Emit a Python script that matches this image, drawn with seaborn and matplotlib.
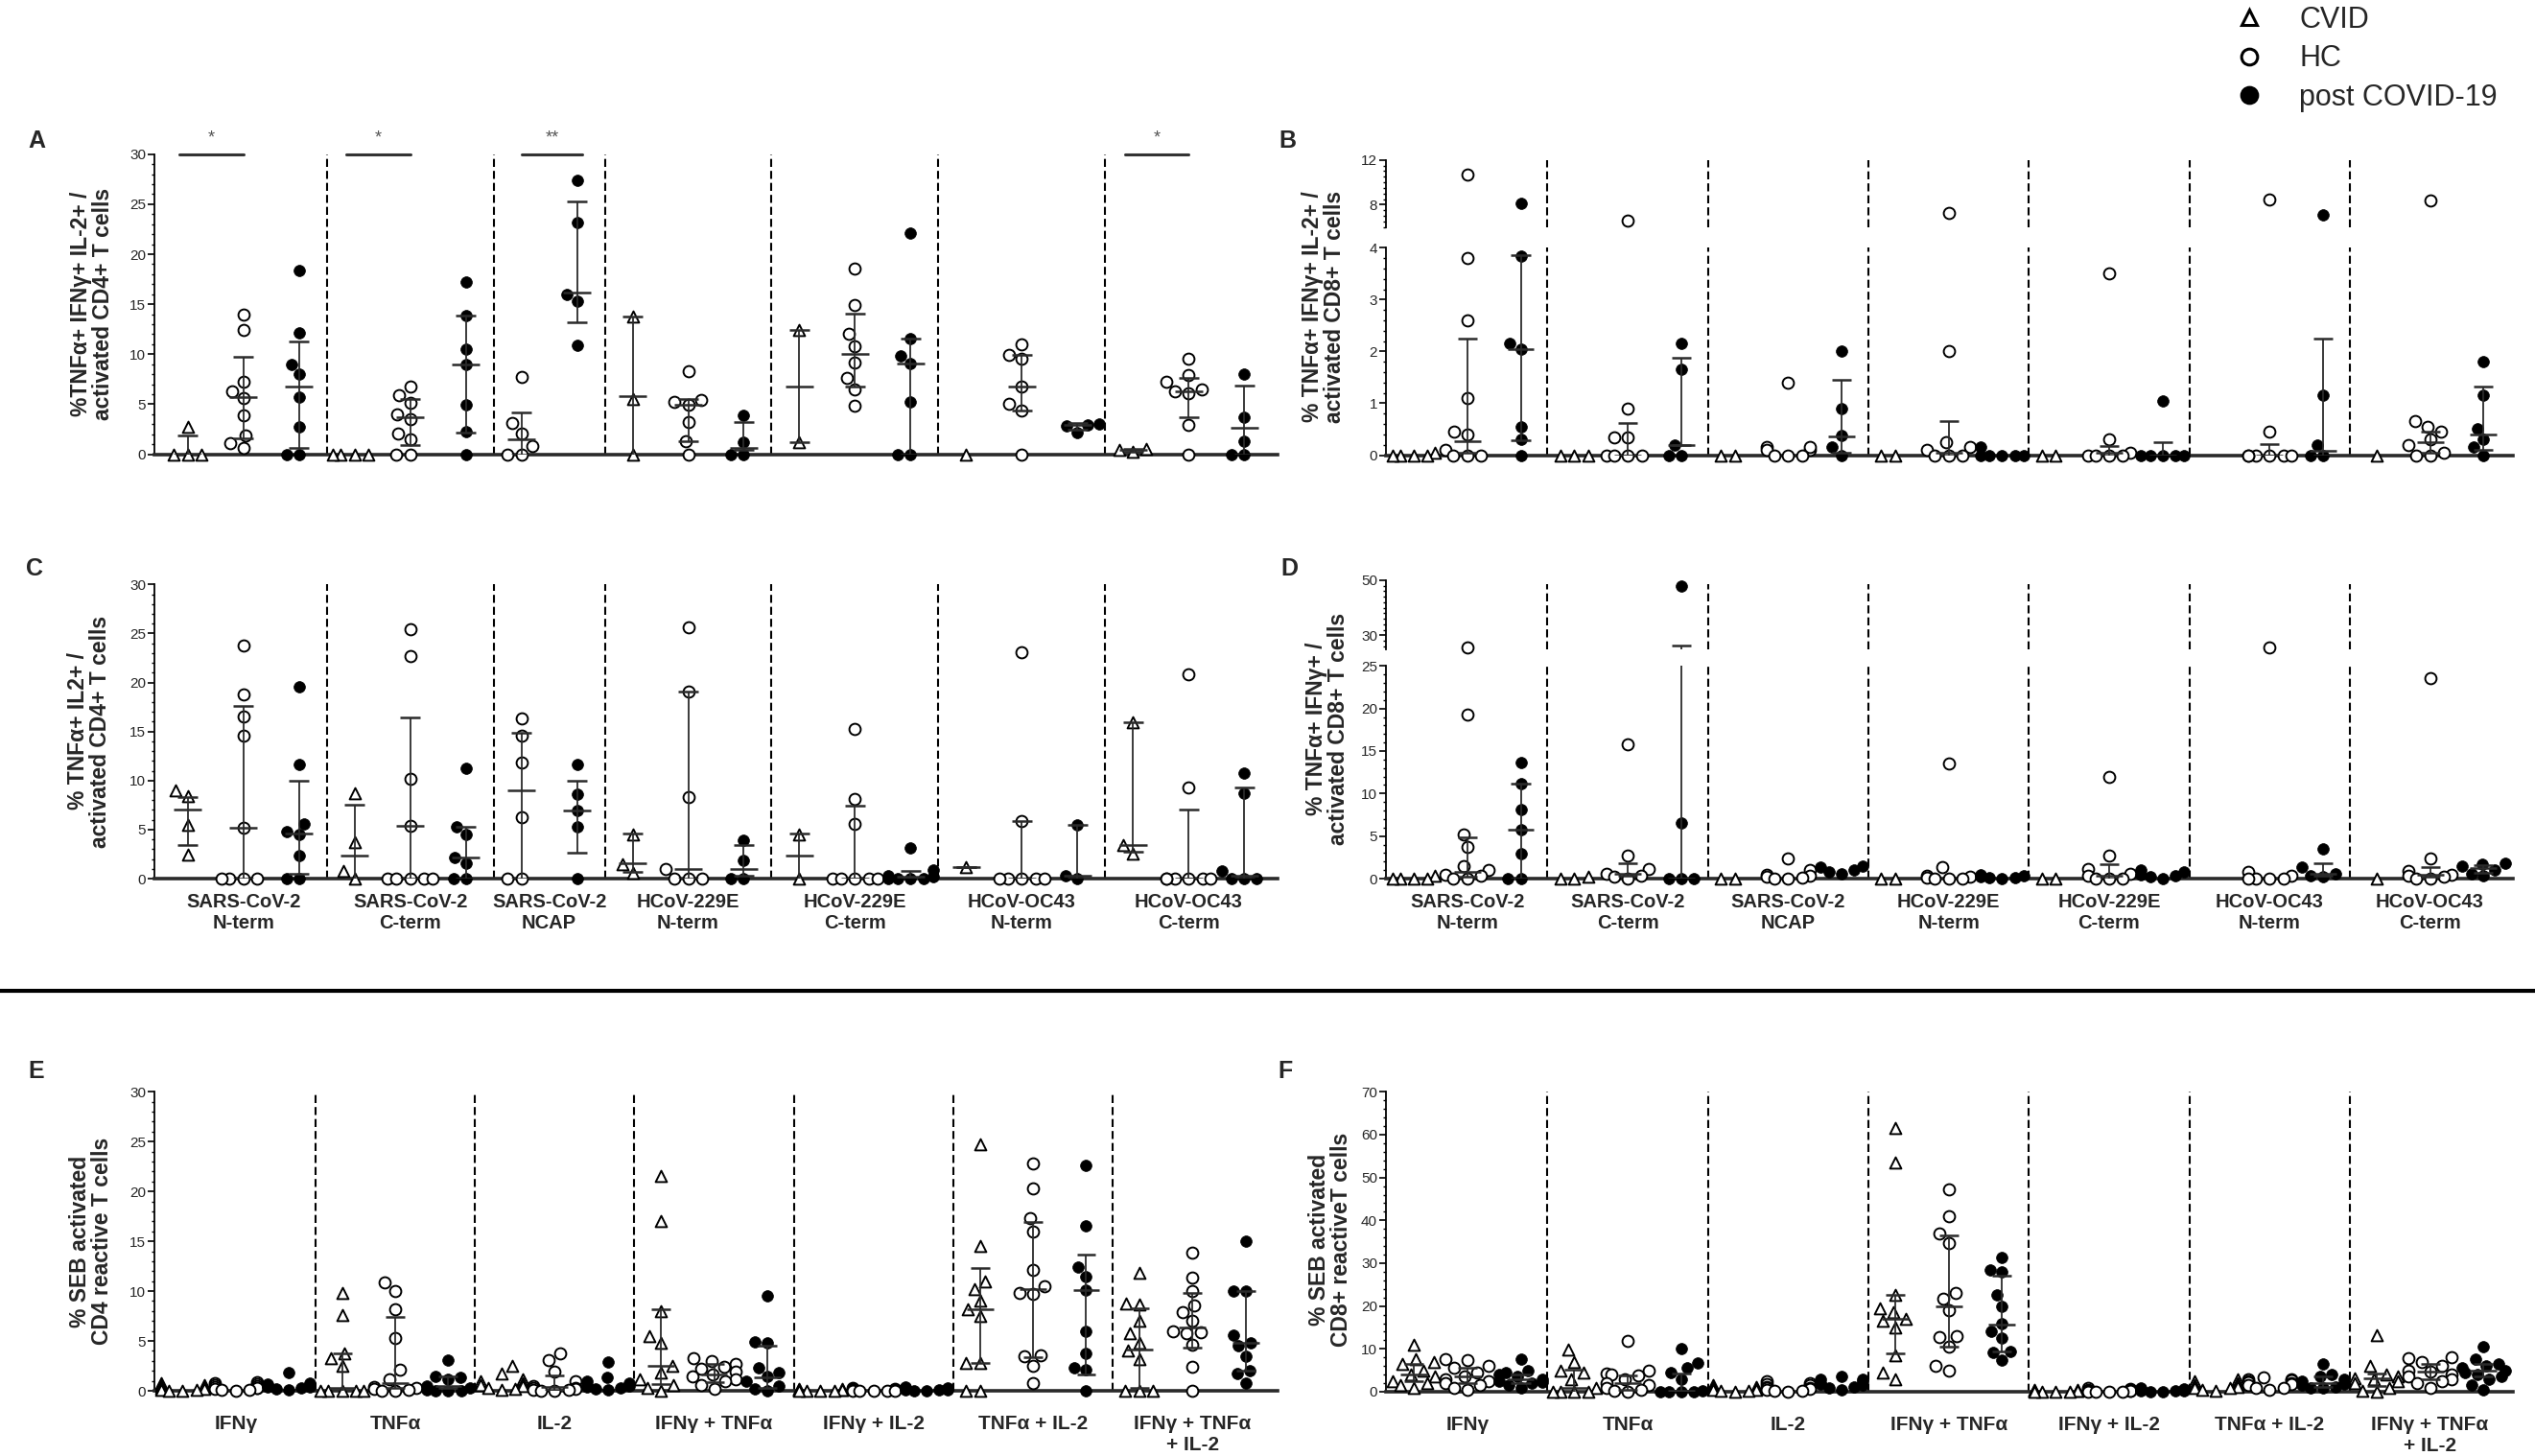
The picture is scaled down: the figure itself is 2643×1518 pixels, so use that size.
import warnings
import matplotlib
matplotlib.use("Agg")
import matplotlib.pyplot as plt
import pandas as pd
import seaborn as sns
from matplotlib.collections import PathCollection
from matplotlib.lines import Line2D
from matplotlib.ticker import MultipleLocator

warnings.filterwarnings("ignore")

# ---------------- data ----------------
# groups: 7 peptide pools (A-D) or 7 cytokine combinations (E-F)
# bars are (low, median, high) as drawn, None where no bar is visible

pool_labels = ["SARS-CoV-2\nN-term", "SARS-CoV-2\nC-term", "SARS-CoV-2\nNCAP",
               "HCoV-229E\nN-term", "HCoV-229E\nC-term", "HCoV-OC43\nN-term",
               "HCoV-OC43\nC-term"]
cyto_labels = ["IFNγ", "TNFα", "IL-2", "IFNγ + TNFα", "IFNγ + IL-2",
               "TNFα + IL-2", "IFNγ + TNFα\n+ IL-2"]

# A: TNFa+ IFNg+ IL-2+ / CD4
A_cvid = [[0, 0, 0, 2.7], [0, 0, 0, 0], [], [13.8, 5.5, 0], [12.4, 1.2], [0], [0.4, 0.2, 0.5]]
A_hc = [[14.0, 12.4, 7.2, 6.3, 5.6, 3.9, 1.9, 1.1, 0.6],
        [6.8, 5.9, 5.1, 4.0, 3.5, 2.1, 1.5, 0, 0],
        [7.7, 3.1, 2.1, 0.8, 0, 0],
        [8.3, 5.4, 5.2, 4.9, 3.2, 1.3, 0],
        [18.6, 14.9, 12.0, 10.8, 9.2, 7.6, 6.5, 4.8],
        [11.0, 9.9, 9.5, 6.8, 5.0, 4.4, 0],
        [9.5, 7.9, 7.2, 6.5, 6.3, 6.1, 2.9, 0]]
A_post = [[18.4, 12.1, 9.0, 8.0, 5.7, 2.7, 0, 0],
          [17.2, 13.9, 10.5, 9.0, 4.9, 2.3, 0],
          [27.4, 23.2, 16.0, 15.3, 10.9],
          [3.9, 1.2, 0, 0],
          [22.1, 11.6, 9.8, 9.1, 5.2, 0, 0],
          [3.0, 2.9, 2.8, 2.2],
          [8.0, 3.7, 1.3, 0, 0]]
A_cvid_bar = [(0, 0, 1.9), None, None, (0, 5.8, 13.8), (1.2, 6.8, 12.4), None, (0.2, 0.4, 0.5)]
A_hc_bar = [(1.6, 5.7, 9.7), (0.9, 3.7, 5.5), (0, 1.45, 4.2), (1.3, 4.9, 5.5),
            (6.8, 10.0, 14.1), (4.4, 6.8, 9.9), (3.7, 6.3, 7.6)]
A_post_bar = [(0.6, 6.8, 11.3), (2.2, 9.0, 13.9), (13.2, 16.2, 25.3), (0.4, 0.6, 3.2),
              (0, 9.1, 11.6), (2.4, 2.9, 3.1), (0, 2.6, 6.9)]
A_sig_x0 = [-0.15, 2.85, 6.0, 16.85]
A_sig_x1 = [1.0, 4.0, 7.1, 18.0]
A_sig_text = ["*", "*", "**", "*"]

# B: TNFa+ IFNg+ IL-2+ / CD8 (broken axis 0-4 / 6-12)
B_cvid = [[0.05, 0, 0, 0, 0], [0, 0, 0], [0, 0], [0, 0], [0, 0], [], [0]]
B_hc = [[10.7, 3.8, 2.6, 1.1, 0.45, 0.4, 0.1, 0, 0, 0],
        [6.6, 0.9, 0.35, 0.35, 0, 0, 0, 0],
        [1.4, 0.15, 0.1, 0.1, 0.15, 0, 0, 0],
        [7.3, 2.0, 0.25, 0.15, 0.1, 0, 0, 0],
        [3.5, 0.3, 0.05, 0, 0, 0, 0],
        [8.5, 0.45, 0, 0, 0, 0, 0, 0],
        [8.4, 0.65, 0.55, 0.45, 0.3, 0.2, 0.05, 0, 0]]
B_post = [[8.1, 3.85, 2.15, 2.05, 0.55, 0.3, 0],
          [2.15, 1.65, 0.2, 0, 0],
          [2.0, 0.9, 0.38, 0.15, 0],
          [0.15, 0, 0, 0, 0, 0],
          [1.05, 0, 0, 0, 0, 0],
          [7.1, 1.15, 0.2, 0, 0],
          [1.8, 1.15, 0.5, 0.3, 0.15, 0]]
B_cvid_bar = [None] * 7
B_hc_bar = [(0.05, 0.27, 2.25), (0, 0, 0.62), None, (0, 0.05, 0.66),
            (0, 0.05, 0.17), (0, 0, 0.22), (0.05, 0.25, 0.45)]
B_post_bar = [(0.28, 2.05, 3.86), (0.19, 0.19, 1.88), (0.05, 0.36, 1.46), None,
              (0, 0, 0.25), (0, 0.08, 2.25), (0.1, 0.39, 1.32)]

# C: TNFa+ IL2+ / CD4
C_cvid = [[9.0, 8.4, 5.5, 2.4], [8.7, 3.7, 0.8, 0], [], [4.5, 1.5, 0.6], [4.5, 0], [1.2], [15.9, 3.4, 2.5]]
C_hc = [[23.8, 18.8, 16.5, 14.6, 5.2, 0, 0, 0, 0],
        [25.4, 22.7, 10.2, 5.4, 0, 0, 0, 0, 0],
        [16.3, 14.6, 11.8, 6.3, 0, 0],
        [25.6, 19.1, 8.3, 1.0, 0, 0, 0],
        [15.3, 8.1, 5.6, 0, 0, 0, 0, 0],
        [23.1, 5.9, 0, 0, 0, 0, 0],
        [20.8, 9.3, 0, 0, 0, 0, 0, 0]]
C_post = [[19.6, 11.6, 5.6, 4.8, 4.5, 2.3, 0, 0],
          [11.2, 5.3, 4.5, 2.2, 1.6, 0, 0],
          [11.6, 8.6, 6.9, 5.3, 0],
          [3.9, 1.9, 0, 0],
          [3.1, 0.9, 0.3, 0.2, 0, 0, 0, 0],
          [5.5, 0.3, 0],
          [10.8, 8.7, 0.8, 0, 0, 0]]
C_cvid_bar = [(3.4, 7.0, 8.3), (0, 2.3, 7.5), None, (0.7, 1.6, 4.6), (0, 2.3, 4.6),
              (1.2, 1.2, 1.2), (2.7, 3.4, 15.9)]
C_hc_bar = [(0, 5.2, 17.6), (0, 5.4, 16.4), (0, 9.0, 14.9), (0, 1.0, 19.1),
            (0, 0, 7.4), (0, 0, 5.9), (0, 0, 7.0)]
C_post_bar = [(0.5, 4.6, 10.0), (0, 2.2, 5.3), (2.6, 6.9, 10.0), (0.3, 1.0, 3.4),
              (0, 0.2, 0.8), (0, 0.3, 5.5), (0, 0.3, 9.3)]

# D: TNFa+ IFNg+ / CD8 (broken axis 0-25 / 25-50)
D_cvid = [[0.3, 0, 0, 0, 0], [0.2, 0, 0], [0, 0], [0, 0], [0, 0], [], [0]]
D_hc = [[25.6, 19.3, 5.2, 3.7, 1.5, 1.0, 0.5, 0.3, 0, 0],
        [15.8, 2.7, 1.1, 0.6, 0.3, 0.2, 0],
        [2.4, 1.0, 0.5, 0.3, 0.2, 0.1, 0, 0],
        [13.5, 1.4, 0.3, 0.2, 0.1, 0, 0, 0],
        [12.0, 2.7, 1.1, 0.6, 0.3, 0, 0, 0],
        [25.6, 0.8, 0.3, 0, 0, 0, 0],
        [23.6, 2.4, 0.9, 0.5, 0.3, 0.2, 0, 0]]
D_post = [[13.7, 11.2, 8.1, 5.7, 2.9, 0, 0],
          [48.0, 6.5, 0, 0, 0],
          [1.5, 1.3, 1.0, 0.8, 0.6],
          [0.5, 0.3, 0.2, 0.1, 0.1, 0],
          [1.0, 0.8, 0.5, 0.3, 0.2, 0],
          [3.5, 1.3, 0.6, 0.3, 0.2],
          [1.8, 1.7, 1.5, 1.0, 0.6, 0.3]]
D_cvid_bar = [None] * 7
D_hc_bar = [(0.2, 0.8, 4.8), (0.3, 0.6, 1.8), None, None, (0, 0.3, 1.7), None, (0.2, 0.5, 1.4)]
D_post_bar = [(0, 5.7, 11.2), (0, 0, 26.2), None, None, None, (0.3, 0.6, 1.8), (0.7, 1.2, 1.6)]

# E: SEB, CD4
E_cvid = [[0.8, 0.6, 0.5, 0.4, 0.3, 0.2, 0.1, 0.1, 0, 0],
          [9.8, 7.6, 3.8, 3.3, 2.5, 0, 0, 0, 0, 0],
          [2.5, 1.7, 1.2, 1.0, 0.8, 0.6, 0.5, 0.3, 0.2, 0.1],
          [21.6, 17.0, 8.0, 5.5, 4.8, 2.5, 1.8, 1.2, 0.6, 0.3, 0],
          [0.2, 0.15, 0.1, 0.1, 0.05, 0.05, 0, 0, 0, 0],
          [24.7, 14.5, 11.0, 10.2, 9.0, 8.2, 7.5, 2.8, 2.8, 0, 0],
          [11.8, 8.8, 8.7, 7.0, 5.8, 4.8, 4.0, 3.2, 0, 0, 0]]
E_hc = [[0.9, 0.8, 0.7, 0.6, 0.5, 0.4, 0.3, 0.3, 0.2, 0.1, 0.1, 0],
        [10.9, 10.0, 8.2, 5.3, 2.1, 1.2, 0.4, 0.3, 0.2, 0.1, 0, 0],
        [3.8, 3.1, 1.9, 1.0, 0.5, 0.3, 0.3, 0.2, 0.1, 0.1, 0, 0],
        [3.3, 3.0, 2.7, 2.4, 2.2, 1.9, 1.6, 1.4, 1.2, 1.0, 0.6, 0.2],
        [0.25, 0.2, 0.15, 0.1, 0.1, 0.05, 0.05, 0, 0, 0, 0, 0],
        [22.8, 20.3, 17.3, 16.0, 12.1, 10.5, 9.8, 9.7, 3.6, 3.5, 2.5, 0.8],
        [13.9, 11.4, 10.0, 8.6, 7.9, 7.0, 6.0, 5.8, 5.9, 4.6, 2.4, 0]]
E_post = [[1.8, 0.8, 0.7, 0.6, 0.5, 0.4, 0.4, 0.3, 0.2, 0.1],
          [3.1, 1.4, 1.3, 1.2, 0.5, 0.3, 0.1, 0, 0, 0],
          [2.9, 1.3, 1.0, 0.8, 0.6, 0.5, 0.4, 0.3, 0.2, 0.1],
          [9.5, 4.9, 4.8, 2.3, 1.8, 1.4, 1.0, 0.5, 0.2, 0],
          [0.35, 0.3, 0.25, 0.2, 0.15, 0.1, 0.1, 0.05, 0, 0],
          [22.6, 16.6, 12.4, 11.5, 10.1, 6.0, 3.8, 2.3, 2.1, 0],
          [15.0, 10.0, 10.0, 5.6, 4.8, 4.5, 3.5, 2.0, 1.7, 0.8]]
E_cvid_bar = [None, (0, 0.3, 3.8), None, (0.7, 2.5, 8.2), None, (2.8, 8.2, 12.3), (0.3, 4.1, 8.3)]
E_hc_bar = [None, (0.3, 0.8, 7.4), (0.1, 0.4, 1.5), (0.9, 1.6, 2.7), None, (3.4, 10.2, 16.9), (4.3, 6.4, 9.8)]
E_post_bar = [None, (0.3, 0.5, 1.4), None, (0.3, 1.3, 4.5), None, (1.6, 10.1, 13.7), (2.0, 4.8, 10.0)]

# F: SEB, CD8
F_cvid = [[11.0, 7.5, 7.0, 6.5, 5.0, 4.0, 3.5, 2.5, 2.0, 1.5, 1.0],
          [9.8, 7.0, 5.0, 4.5, 3.0, 1.0, 0, 0, 0, 0],
          [1.5, 1.2, 1.0, 0.8, 0.6, 0.5, 0.4, 0.3, 0.2, 0.1],
          [61.5, 53.5, 22.5, 19.5, 18.5, 17.0, 16.5, 15.0, 8.5, 4.5, 3.0],
          [0.5, 0.4, 0.3, 0.3, 0.2, 0.2, 0.1, 0.1, 0.1, 0],
          [3.0, 2.5, 2.0, 1.8, 1.5, 1.2, 1.0, 0.8, 0.5, 0.3],
          [13.2, 6.0, 4.0, 3.5, 3.2, 3.0, 2.5, 2.0, 1.0, 0.3, 0]]
F_hc = [[7.5, 7.3, 6.0, 5.5, 4.5, 3.5, 3.0, 2.5, 2.0, 1.5, 1.0, 0.5],
        [11.8, 5.0, 4.3, 4.0, 3.8, 3.0, 2.0, 1.5, 1.0, 0.5, 0.3, 0],
        [2.5, 2.0, 1.8, 1.5, 1.2, 1.0, 0.8, 0.6, 0.5, 0.3, 0.2, 0.1],
        [47.3, 41.0, 37.0, 34.7, 23.0, 21.8, 19.0, 13.0, 12.7, 10.5, 6.0, 5.0],
        [0.8, 0.6, 0.5, 0.4, 0.3, 0.3, 0.2, 0.2, 0.1, 0.1, 0, 0],
        [3.3, 3.0, 2.8, 2.6, 2.4, 2.2, 2.0, 1.8, 1.5, 1.0, 0.8, 0.5],
        [8.0, 7.8, 7.0, 6.0, 5.0, 4.6, 4.0, 3.5, 3.0, 2.5, 2.0, 1.0]]
F_post = [[7.5, 5.0, 4.5, 4.0, 3.5, 3.0, 2.5, 2.2, 2.0, 1.5, 0.8],
          [10.0, 6.8, 5.5, 4.5, 3.0, 0.2, 0, 0, 0, 0],
          [3.5, 3.0, 2.8, 2.4, 2.1, 1.8, 1.5, 1.2, 0.9, 0.5],
          [31.3, 28.5, 28.0, 22.5, 20.0, 15.8, 14.0, 12.5, 9.5, 9.2, 7.3],
          [0.9, 0.7, 0.6, 0.5, 0.4, 0.3, 0.3, 0.2, 0.1, 0.1],
          [6.5, 4.0, 3.5, 3.0, 2.5, 2.0, 1.8, 1.5, 1.2, 1.0, 0.8],
          [10.5, 7.5, 6.5, 6.0, 5.5, 5.0, 4.5, 4.0, 3.5, 3.0, 1.5, 0.5]]
F_cvid_bar = [(2.5, 4.0, 6.5), (0, 1.0, 5.2), None, (9.0, 17.0, 22.5), None, None, (1.3, 3.2, 4.3)]
F_hc_bar = [(2.0, 3.5, 5.5), (0.5, 2.0, 3.8), None, (10.5, 20.0, 36.5), None, None, (3.0, 4.6, 6.5)]
F_post_bar = [(2.0, 3.0, 4.0), (0, 0.2, 4.3), None, (9.5, 15.7, 27.0), None, (1.2, 2.0, 3.5), (3.5, 5.0, 6.5)]

# ---------------- slot layout ----------------
# A and C have no CVID column for NCAP, so they use 20 slots
left_order = [f"s{i}" for i in range(20)]
left_cvid = [0, 3, None, 8, 11, 14, 17]
left_hc = [1, 4, 6, 9, 12, 15, 18]
left_post = [2, 5, 7, 10, 13, 16, 19]
left_seps = [2.5, 5.5, 7.5, 10.5, 13.5, 16.5]
left_lab = [1, 4, 6.5, 9, 12, 15, 18]

full_order = [f"s{i}" for i in range(21)]
full_cvid = [3 * g for g in range(7)]
full_hc = [3 * g + 1 for g in range(7)]
full_post = [3 * g + 2 for g in range(7)]
full_seps = [3 * g + 2.5 for g in range(6)]
full_lab = full_hc

# ---------------- style ----------------
sns.set_theme(style="ticks")
plt.rcParams["font.family"] = ["Liberation Sans", "DejaVu Sans"]

BAR = "#2b2b2b"
STYLE = {
    "cvid": dict(marker="^", color="white", edgecolor="black", linewidth=1.4, size=8.5),
    "hc": dict(marker="o", color="white", edgecolor="black", linewidth=1.4, size=8.5),
    "post": dict(marker="o", color="black", edgecolor="black", linewidth=0.5, size=8.5),
}

W, H = 2643, 1518
fig = plt.figure(figsize=(W / 100, H / 100), dpi=100)


def rect(x0, x1, ytop, ybot):
    return [x0 / W, 1 - ybot / H, (x1 - x0) / W, (ybot - ytop) / H]


def add_points(ax, order, positions, values, kind, lo=None, hi=None):
    slots, vals = [], []
    for p, grp in zip(positions, values):
        if p is None:
            continue
        for v in grp:
            if lo is not None and v < lo:
                continue
            if hi is not None and v > hi:
                continue
            slots.append(order[p])
            vals.append(v)
    if not vals:
        return
    df = pd.DataFrame({"slot": slots, "val": vals})
    sns.swarmplot(data=df, x="slot", y="val", order=order, ax=ax, legend=False,
                  warn_thresh=1, zorder=3, **STYLE[kind])


def add_bars(ax, positions, bars):
    for p, b in zip(positions, bars):
        if p is None or b is None:
            continue
        lo, med, hi = b
        ax.vlines(p, lo, hi, color=BAR, lw=1.3, zorder=4)
        ax.hlines([lo, hi], p - 0.18, p + 0.18, color=BAR, lw=1.8, zorder=4)
        ax.hlines(med, p - 0.25, p + 0.25, color=BAR, lw=1.8, zorder=4)


def style_axis(ax, xlim, ylim, major, minor, bottom=True):
    ax.set_xlim(*xlim)
    ax.set_ylim(*ylim)
    ax.set_xlabel("")
    ax.set_ylabel("")
    ax.grid(False)
    ax.spines["top"].set_visible(False)
    ax.spines["right"].set_visible(False)
    ax.spines["left"].set_linewidth(1.3)
    ax.spines["left"].set_color("black")
    if bottom:
        ax.spines["bottom"].set_linewidth(2.6)
        ax.spines["bottom"].set_color("#2a2a2a")
    else:
        ax.spines["bottom"].set_visible(False)
    ax.set_yticks(major)
    ax.set_yticklabels([f"{t:g}" for t in major], fontsize=11)
    ax.yaxis.set_minor_locator(MultipleLocator(minor))
    ax.tick_params(axis="y", which="major", length=5, width=1.2, pad=1.5, color="black")
    ax.tick_params(axis="y", which="minor", length=2.5, width=1.0, color="black")
    ax.set_xticks([])
    ax.tick_params(axis="x", length=0)


def separators(ax, seps, ymax=1.0):
    for s in seps:
        ax.axvline(s, ymin=0, ymax=ymax, color="black", lw=1.5, ls=(0, (4, 2)), zorder=1)


def unclip(ax):
    for c in ax.collections:
        if isinstance(c, PathCollection):
            c.set_clip_on(False)


def draw_panel(ax, order, cpos, hpos, ppos, data, bars, lo=None, hi=None):
    for pos, vals, kind in zip((cpos, hpos, ppos), data, ("cvid", "hc", "post")):
        add_points(ax, order, pos, vals, kind, lo, hi)
    for pos, b in zip((cpos, hpos, ppos), bars):
        add_bars(ax, pos, b)


def xlabels(ax, pos, labels, pad, size):
    ax.set_xticks(pos)
    ax.set_xticklabels(labels, fontsize=size, fontweight="bold")
    ax.tick_params(axis="x", length=0, pad=pad)


LX0, LX1 = 161, 1332
RX0, RX1 = 1445, 2620
left_xlim = (-0.6, 19.6)
e_xlim = (-0.53, 20.6)
right_xlim = (-0.52, 20.55)

# ---- A ----
axA = fig.add_axes(rect(LX0, LX1, 160.8, 473.5))
draw_panel(axA, left_order, left_cvid, left_hc, left_post,
           (A_cvid, A_hc, A_post), (A_cvid_bar, A_hc_bar, A_post_bar))
style_axis(axA, left_xlim, (0, 30), list(range(0, 31, 5)), 1)
separators(axA, left_seps)
for x0, x1, t in zip(A_sig_x0, A_sig_x1, A_sig_text):
    axA.plot([x0, x1], [30, 30], color="#333333", lw=2.2, clip_on=False, zorder=5)
    axA.text((x0 + x1) / 2, 31.6, t, ha="center", va="center", fontsize=13, color="#555555")
unclip(axA)

# ---- B (broken) ----
axBb = fig.add_axes(rect(RX0, RX1, 258.4, 474.5))
axBt = fig.add_axes(rect(RX0, RX1, 166.7, 236.7))
draw_panel(axBb, full_order, full_cvid, full_hc, full_post,
           (B_cvid, B_hc, B_post), (B_cvid_bar, B_hc_bar, B_post_bar), hi=4)
draw_panel(axBt, full_order, full_cvid, full_hc, full_post,
           (B_cvid, B_hc, B_post), (B_cvid_bar, B_hc_bar, B_post_bar), lo=6)
style_axis(axBb, right_xlim, (0, 4), [0, 1, 2, 3, 4], 0.2)
style_axis(axBt, right_xlim, (6, 12), [8, 12], 0.5, bottom=False)
separators(axBb, full_seps)
separators(axBt, full_seps)
unclip(axBb)
unclip(axBt)

# ---- C ----
axC = fig.add_axes(rect(LX0, LX1, 609.3, 916))
draw_panel(axC, left_order, left_cvid, left_hc, left_post,
           (C_cvid, C_hc, C_post), (C_cvid_bar, C_hc_bar, C_post_bar))
style_axis(axC, left_xlim, (0, 30), list(range(0, 31, 5)), 1)
separators(axC, left_seps)
xlabels(axC, left_lab, pool_labels, 11, 14.5)
unclip(axC)

# ---- D (broken) ----
axDb = fig.add_axes(rect(RX0, RX1, 694.3, 916))
axDt = fig.add_axes(rect(RX0, RX1, 605, 676.7))
draw_panel(axDb, full_order, full_cvid, full_hc, full_post,
           (D_cvid, D_hc, D_post), (D_cvid_bar, D_hc_bar, D_post_bar), hi=25)
draw_panel(axDt, full_order, full_cvid, full_hc, full_post,
           (D_cvid, D_hc, D_post), (D_cvid_bar, D_hc_bar, D_post_bar), lo=25)
style_axis(axDb, right_xlim, (0, 25), list(range(0, 26, 5)), 1)
style_axis(axDt, right_xlim, (25, 50), [30, 50], 2, bottom=False)
separators(axDb, full_seps)
separators(axDt, full_seps, ymax=0.94)
xlabels(axDb, full_lab, pool_labels, 11, 14.5)
unclip(axDb)
unclip(axDt)

# ---- E ----
axE = fig.add_axes(rect(LX0, LX1, 1138.3, 1450))
draw_panel(axE, full_order, full_cvid, full_hc, full_post,
           (E_cvid, E_hc, E_post), (E_cvid_bar, E_hc_bar, E_post_bar))
style_axis(axE, e_xlim, (0, 30), list(range(0, 31, 5)), 1)
separators(axE, full_seps)
xlabels(axE, full_lab, cyto_labels, 18, 15)
unclip(axE)

# ---- F ----
axF = fig.add_axes(rect(RX0, RX1, 1138.3, 1451))
draw_panel(axF, full_order, full_cvid, full_hc, full_post,
           (F_cvid, F_hc, F_post), (F_cvid_bar, F_hc_bar, F_post_bar))
style_axis(axF, right_xlim, (0, 70), list(range(0, 71, 10)), 2)
separators(axF, full_seps)
xlabels(axF, full_lab, cyto_labels, 18, 15)
unclip(axF)

# ---- y labels (two-line, rotated) ----
ylabels = [
    (96, 317, "%TNFα+ IFNγ+ IL-2+ /\nactivated CD4+ T cells"),
    (1380, 320, "% TNFα+ IFNγ+ IL-2+ /\nactivated CD8+ T cells"),
    (93, 762.5, "% TNFα+ IL2+ /\nactivated CD4+ T cells"),
    (1384, 760, "% TNFα+ IFNγ+ /\nactivated CD8+ T cells"),
    (95, 1294, "% SEB activated\nCD4 reactive T cells"),
    (1387, 1292, "% SEB activated\nCD8+ reactiveT cells"),
]
for x, y, t in ylabels:
    fig.text(x / W, 1 - y / H, t, rotation=90, ha="center", va="center",
             multialignment="center", fontsize=16.5, fontweight="bold", linespacing=1.0)

# ---- panel letters ----
for x, y, t in [(38, 147, "A"), (1342, 147, "B"), (36, 593, "C"),
                (1344, 593, "D"), (38, 1117, "E"), (1340, 1117, "F")]:
    fig.text(x / W, 1 - y / H, t, ha="center", va="center", fontsize=18, fontweight="bold")

# horizontal rule between the peptide panels and the SEB panels
fig.add_artist(Line2D([0, 1], [1 - 1033 / H, 1 - 1033 / H], transform=fig.transFigure,
                      color="black", lw=3))

# ---- legend ----
handles = [
    Line2D([], [], ls="", marker="^", mfc="white", mec="black", mew=2.2, ms=12),
    Line2D([], [], ls="", marker="o", mfc="white", mec="black", mew=2.2, ms=12),
    Line2D([], [], ls="", marker="o", mfc="black", mec="black", mew=2.2, ms=12),
]
fig.legend(handles, ["CVID", "HC", "post COVID-19"], loc="upper left",
           bbox_to_anchor=(2330 / W, 0.996), frameon=False, fontsize=22,
           handlelength=1.0, handletextpad=1.2, labelspacing=0.34,
           borderpad=0, borderaxespad=0)

fig.savefig("out.png", dpi=100, facecolor="white")
